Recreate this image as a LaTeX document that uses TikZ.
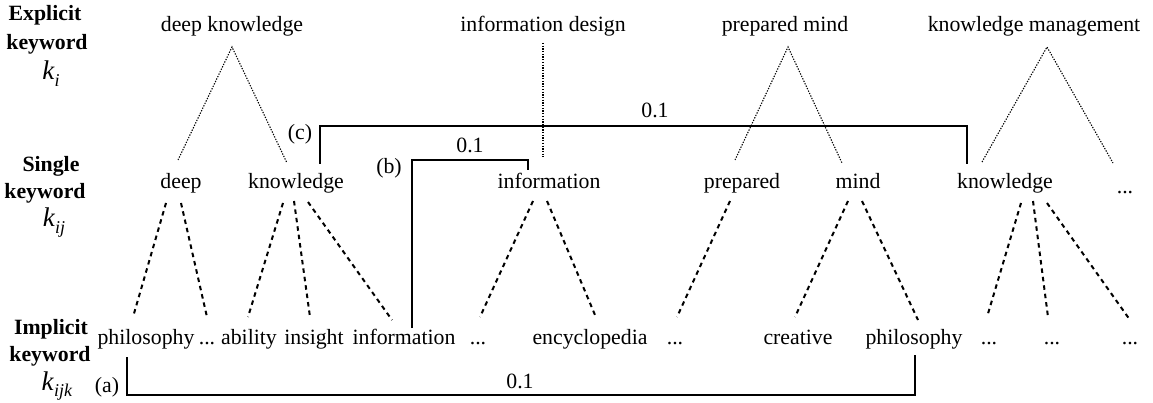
\documentclass[tikz,border=0pt]{standalone}
\usepackage{fontspec}
\setmainfont{Liberation Serif}
\newcommand\kw[1]{{\fontsize{27}{27}\selectfont\textit{k}}\raisebox{-0.3em}{\fontsize{18}{18}\selectfont\textit{#1}}}
\begin{document}
\begin{tikzpicture}[x=1pt,y=-1pt,
  every node/.style={font=\fontsize{21.8}{24}\selectfont, inner sep=0pt, anchor=base},
  lbl/.style={font=\fontsize{21.8}{24}\selectfont\bfseries},
  dotline/.style={line width=1.1pt, dash pattern=on 1.3pt off 1.4pt},
  dashline/.style={line width=2pt, dash pattern=on 4.5pt off 4pt},
  link/.style={line width=2pt}]
\useasboundingbox (0,0) rectangle (1153,403);
% left labels
\node[lbl] (e1) at (45,21) {Explicit};
\node[lbl] (e2) at (47,50) {keyword};
\node (e3) at (51,80) {\kw{i}};
\node[lbl] (s1) at (51,172) {Single};
\node[lbl] (s2) at (45,199) {keyword};
\node (s3) at (54,227) {\kw{ij}};
\node[lbl] (m1) at (51,334) {Implicit};
\node[lbl] (m2) at (50,361) {keyword};
\node (m3) at (57,390) {\kw{ijk}};
% explicit keywords
\node (dk) at (232,32) {deep knowledge};
\node (id) at (543,32) {information design};
\node (pm) at (785,32) {prepared mind};
\node (km) at (1034,32) {knowledge management};
% single keywords
\node (deep) at (181,189) {deep};
\node (kn1) at (296,189) {knowledge};
\node (inf) at (549,189) {information};
\node (prep) at (742,189) {prepared};
\node (mind) at (858,189) {mind};
\node (kn2) at (1005,189) {knowledge};
\node (dots0) at (1125,194) {...};
% implicit keywords
\node (phil1) at (146,344) {philosophy};
\node (d1) at (207,344) {...};
\node (abil) at (249,344) {ability};
\node (ins) at (314,344) {insight};
\node (inf2) at (404,344) {information};
\node (d2) at (478,344) {...};
\node (enc) at (590,344) {encyclopedia};
\node (d3) at (675,344) {...};
\node (cre) at (798,344) {creative};
\node (phil2) at (914,344) {philosophy};
\node (d4) at (989,344) {...};
\node (d5) at (1052,344) {...};
\node (d6) at (1130,344) {...};
% coordinates for the tree lines
\coordinate (dkA) at (232,47);
\coordinate (dkL) at (178,160);
\coordinate (dkR) at (287,163);
\coordinate (idA) at (543,43);
\coordinate (idB) at (543,157);
\coordinate (pmA) at (788,47);
\coordinate (pmL) at (735,160);
\coordinate (pmR) at (842,163);
\coordinate (kmA) at (1047,47);
\coordinate (kmL) at (982,162);
\coordinate (kmR) at (1113,163);
\draw[dotline] (dkL) -- (dkA) -- (dkR);
\draw[dotline] (idA) -- (idB);
\draw[dotline] (pmL) -- (pmA) -- (pmR);
\draw[dotline] (kmL) -- (kmA) -- (kmR);
% single -> implicit
\coordinate (deepL) at (166,203);
\coordinate (deepR) at (181,203);
\coordinate (kn1L) at (283,203);
\coordinate (kn1M) at (294,201);
\coordinate (kn1R) at (308,202);
\coordinate (infL) at (533,201);
\coordinate (infR) at (547,201);
\coordinate (prepL) at (730,201);
\coordinate (mindL) at (848,201);
\coordinate (mindR) at (862,201);
\coordinate (kn2L) at (1021,203);
\coordinate (kn2M) at (1033,201);
\coordinate (kn2R) at (1047,203);
\coordinate (t1) at (133,317);
\coordinate (t2) at (207,317);
\coordinate (t3) at (248,317);
\coordinate (t4) at (310,317);
\coordinate (t5) at (392,320);
\coordinate (t6) at (480,317);
\coordinate (t7) at (595,315);
\coordinate (t8) at (677,317);
\coordinate (t9) at (795,317);
\coordinate (t10) at (918,320);
\coordinate (t11) at (987,317);
\coordinate (t12) at (1048,317);
\coordinate (t13) at (1130,320);
\draw[dashline] (deepL) -- (t1);
\draw[dashline] (deepR) -- (t2);
\draw[dashline] (kn1L) -- (t3);
\draw[dashline] (kn1M) -- (t4);
\draw[dashline] (kn1R) -- (t5);
\draw[dashline] (infL) -- (t6);
\draw[dashline] (infR) -- (t7);
\draw[dashline] (prepL) -- (t8);
\draw[dashline] (mindL) -- (t9);
\draw[dashline] (mindR) -- (t10);
\draw[dashline] (kn2L) -- (t11);
\draw[dashline] (kn2M) -- (t12);
\draw[dashline] (kn2R) -- (t13);
% links
\coordinate (cL) at (320,164);
\coordinate (cR) at (967,164);
\draw[link] (cL) -- (320,126) -- (967,126) -- (cR);
\node (c01) at (655,118) {0.1};
\node (clab) at (300,140) {(c)};
\coordinate (bB) at (412,328);
\coordinate (bR) at (528,170);
\draw[link] (bB) -- (412,160) -- (528,160) -- (bR);
\node (b01) at (470,153) {0.1};
\node (blab) at (389,174) {(b)};
\coordinate (aL) at (127,357);
\coordinate (aR) at (915,355);
\draw[link] (aL) -- (127,395) -- (915,395) -- (aR);
\node (a01) at (520,388) {0.1};
\node (alab) at (107,392) {(a)};
\end{tikzpicture}
\end{document}
